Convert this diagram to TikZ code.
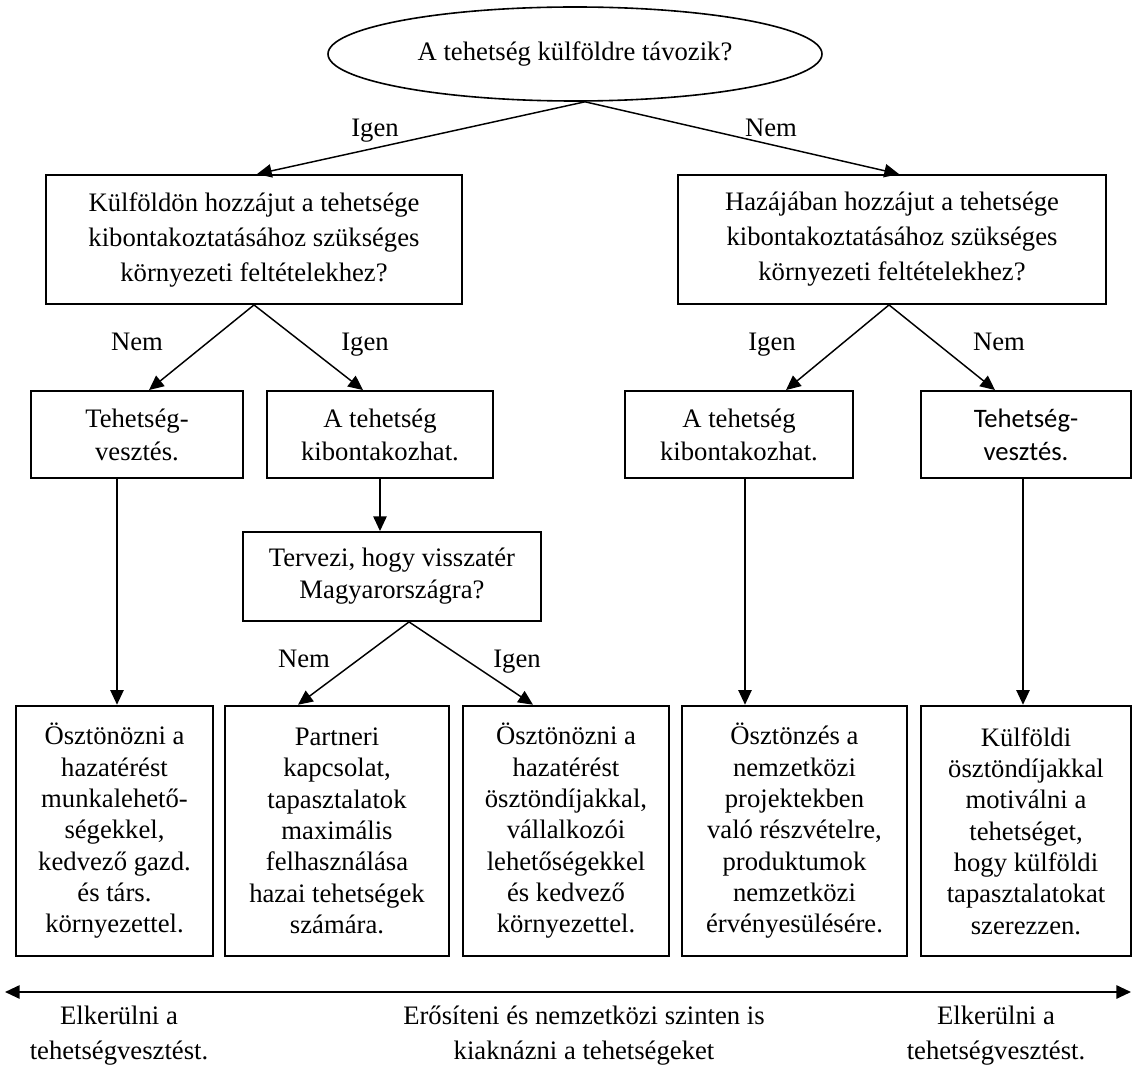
\documentclass[tikz,border=0pt]{standalone}
\usepackage{fontspec}
\setmainfont{Liberation Serif}
\newfontfamily\calfont{Carlito}
\usetikzlibrary{shapes.geometric,arrows.meta}
\begin{document}
\begin{tikzpicture}[x=0.75pt,y=-0.75pt,
  every node/.style={inner sep=0pt},
  box/.style={draw,line width=1.4pt,align=center},
  fA/.style={font=\fontsize{20}{26.25}\selectfont},
  fC/.style={font=\fontsize{20}{24.75}\selectfont},
  fT/.style={font=\fontsize{20}{24}\selectfont},
  fD/.style={font=\fontsize{20}{23.5}\selectfont},
  toprow/.style={box,fA,minimum height=96.75pt},
  midrow/.style={box,fC,minimum height=65.25pt},
  botrow/.style={box,fD,minimum height=188pt},
  lab/.style={font=\fontsize{20}{24}\selectfont,anchor=base},
  foot/.style={align=center,font=\fontsize{20}{26.25}\selectfont},
  arr/.style={line width=1.1pt,-{Triangle[length=11pt,width=10pt]}}
]
\useasboundingbox (0,0) rectangle (1132,1066);

\node[draw,ellipse,line width=1.2pt,minimum width=370.5pt,minimum height=70.5pt,fT] (E) at (575,54) {A tehetség külföldre távozik?};

\node[toprow,minimum width=312pt] (A) at (254,239.5) {Külföldön hozzájut a tehetsége\\kibontakoztatásához szükséges\\környezeti feltételekhez?};
\node[toprow,minimum width=321pt] (B) at (892,239.5) {Hazájában hozzájut a tehetsége\\kibontakoztatásához szükséges\\környezeti feltételekhez?};

\node[midrow,minimum width=159pt] (C1) at (137,434.5) {Tehetség-\\vesztés.};
\node[midrow,minimum width=169.5pt] (C2) at (380,434.5) {A tehetség\\kibontakozhat.};
\node[midrow,minimum width=171pt] (C3) at (739,434.5) {A tehetség\\kibontakozhat.};
\node[midrow,minimum width=157.5pt,font=\calfont\fontsize{20}{24.75}\selectfont] (C4) at (1026,434.5) {Tehetség-\\vesztés.};

\node[box,fT,minimum width=223.5pt,minimum height=66.75pt] (T) at (392,576.5) {Tervezi, hogy visszatér\\Magyarországra?};

\node[botrow,minimum width=147.75pt] (D1) at (114.5,831) {Ösztönözni a\\hazatérést\\munkalehető-\\ségekkel,\\kedvező gazd.\\és társ.\\környezettel.};
\node[botrow,minimum width=168pt] (D2) at (337,831) {Partneri\\kapcsolat,\\tapasztalatok\\maximális\\felhasználása\\hazai tehetségek\\számára.};
\node[botrow,minimum width=154.5pt] (D3) at (566,831) {Ösztönözni a\\hazatérést\\ösztöndíjakkal,\\vállalkozói\\lehetőségekkel\\és kedvező\\környezettel.};
\node[botrow,minimum width=168.75pt] (D4) at (794.5,831) {Ösztönzés a\\nemzetközi\\projektekben\\való részvételre,\\produktumok\\nemzetközi\\érvényesülésére.};
\node[botrow,minimum width=157.5pt] (D5) at (1026,831) {Külföldi\\ösztöndíjakkal\\motiválni a\\tehetséget,\\hogy külföldi\\tapasztalatokat\\szerezzen.};

% labels
\node[lab] (l1) at (375,137) {Igen};
\node[lab] (l2) at (771,137) {Nem};
\node[lab] (l3) at (137,351) {Nem};
\node[lab] (l4) at (365,351) {Igen};
\node[lab] (l5) at (772,351) {Igen};
\node[lab] (l6) at (999,351) {Nem};
\node[lab] (l7) at (304,667) {Nem};
\node[lab] (l8) at (517,667) {Igen};

% connectors
\draw[arr] ([xshift=7.5pt]E.south) -- ([xshift=2.25pt]A.north);
\draw[arr] ([xshift=7.5pt]E.south) -- ([xshift=5.25pt]B.north);
\draw[arr] (A.south) -- ([xshift=9pt]C1.north);
\draw[arr] (A.south) -- ([xshift=-12.75pt]C2.north);
\draw[arr] ([xshift=-2.25pt]B.south) -- ([xshift=35.25pt]C3.north);
\draw[arr] ([xshift=-2.25pt]B.south) -- ([xshift=-23.25pt]C4.north);
\draw[arr] ([xshift=-15pt]C1.south) -- ([xshift=-15pt]C1.south |- D1.north);
\draw[arr] (C2.south) -- (C2.south |- T.north);
\draw[arr] ([xshift=4.5pt]C3.south) -- ([xshift=4.5pt]C3.south |- D4.north);
\draw[arr] ([xshift=-2.25pt]C4.south) -- ([xshift=-2.25pt]C4.south |- D5.north);
\draw[arr] ([xshift=12.75pt]T.south) -- ([xshift=-29.25pt]D2.north);
\draw[arr] ([xshift=12.75pt]T.south) -- ([xshift=-24.75pt]D3.north);

% bottom scale
\coordinate (L) at (5,992);
\coordinate (R) at (1131,992);
\draw[line width=1.4pt,{Triangle[length=11pt,width=10pt]}-{Triangle[length=11pt,width=10pt]}] (L) -- (R);

\node[foot] (F1) at (119,1036) {Elkerülni a\\tehetségvesztést.};
\node[foot] (F2) at (584,1036) {Erősíteni és nemzetközi szinten is\\kiaknázni a tehetségeket};
\node[foot] (F3) at (996,1036) {Elkerülni a\\tehetségvesztést.};
\end{tikzpicture}
\end{document}
